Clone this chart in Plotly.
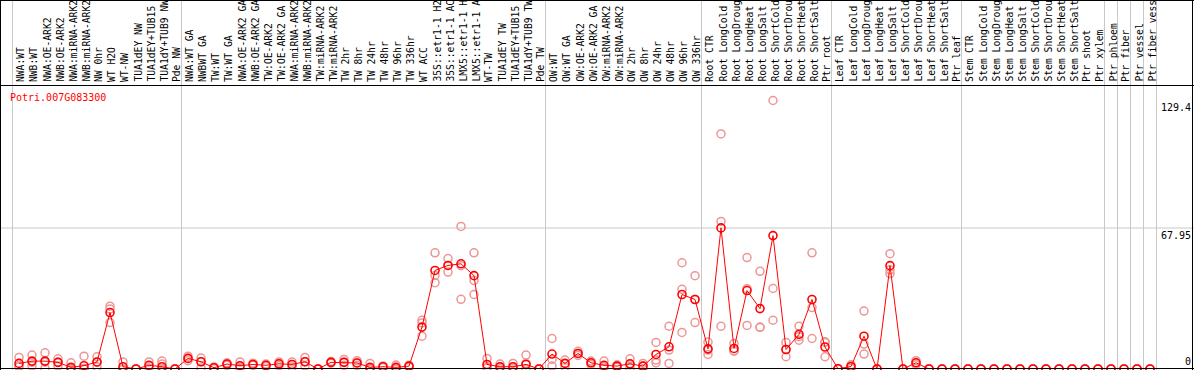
import plotly.graph_objects as go

W, H = 1194, 370

title = "Potri.007G083300"

labels = [
    "NWA:WT", "NWB:WT", "NWA:OE-ARK2", "NWB:OE-ARK2", "NWA:miRNA-ARK2", "NWB:miRNA-ARK2",
    "NW 0hr", "WT H2O", "WT-NW", "TUA1dEY NW", "TUA1dEY+TUB15", "TUA1dY+TUB9 NW", "Pde NW",
    "NWA:WT GA", "NWBWT GA", "TW:WT", "TW:WT GA", "NWA:OE-ARK2 GA", "NWB:OE-ARK2 GA",
    "TW:OE-ARK2", "TW:OE-ARK2 GA", "NWA:miRNA-ARK2", "NWB:miRNA-ARK2", "TW:miRNA-ARK2",
    "TW:miRNA-ARK2", "TW 2hr", "TW 8hr", "TW 24hr", "TW 48hr", "TW 96hr", "TW 336hr",
    "WT ACC", "35S::etr1-1 H2", "35S::etr1-1 AC", "LMX5::etr1-1 H", "LMX5::etr1-1 A",
    "WT-TW", "TUA1dEY TW", "TUA1dEY+TUB15", "TUA1dY+TUB9 TW", "Pde TW",
    "OW:WT", "OW:WT GA", "OW:OE-ARK2", "OW:OE-ARK2 GA", "OW:miRNA-ARK2", "OW:miRNA-ARK2",
    "OW 2hr", "OW 8hr", "OW 24hr", "OW 48hr", "OW 96hr", "OW 336hr",
    "Root CTR", "Root LongCold", "Root LongDroug", "Root LongHeat", "Root LongSalt",
    "Root ShortCold", "Root ShortDrou", "Root ShortHeat", "Root ShortSalt", "Ptr root",
    "Leaf CTR", "Leaf LongCold", "Leaf LongDroug", "Leaf LongHeat", "Leaf LongSalt",
    "Leaf ShortCold", "Leaf ShortDrou", "Leaf ShortHeat", "Leaf ShortSalt", "Ptr leaf",
    "Stem CTR", "Stem LongCold", "Stem LongDroug", "Stem LongHeat", "Stem LongSalt",
    "Stem ShortCold", "Stem ShortDrou", "Stem ShortHeat", "Stem ShortSalt", "Ptr shoot",
    "Ptr xylem", "Ptr phloem", "Ptr fiber", "Ptr vessel", "Ptr fiber vess",
]

means = [
    2.7, 3.8, 3.8, 3.2, 0.8, 1.6, 3.4, 27.2, 1.1, 0.0, 1.8, 1.1, 0.0,
    5.1, 3.5, 0.6, 2.4, 1.6, 2.2, 1.8, 2.5, 2.2, 3.5, 0.0, 3.2, 3.2, 2.9, 0.8, 1.1, 0.8, 1.4,
    20.2, 47.5, 49.9, 50.7, 45.0, 2.2, 1.1, 1.1, 2.2, 0.0,
    7.2, 2.7, 7.5, 3.0, 1.8, 1.4, 2.5, 1.4, 7.0, 10.7, 35.9, 33.5,
    9.7, 68.0, 9.9, 37.8, 29.1, 64.3, 9.4, 16.7, 33.5, 10.6,
    0.1, 1.2, 15.8, 0.0, 49.8, 0.0, 3.0, 0.0, 0.0, 0.0,
    0.0, 0.0, 0.0, 0.0, 0.0, 0.0, 0.0, 0.0, 0.0, 0.0,
    0.0, 0.0, 0.0, 0.0, 0.0,
]

replicates = [
    [5.6, 1.5, 1.0], [6.7, 3.2, 1.5], [7.8, 3.3, 0.3], [4.9, 3.2, 1.5], [3.0, 0.0, 0.0],
    [6.2, 0.3, 0.0], [5.9, 3.2, 1.1], [30.3, 28.9, 22.4], [3.4, 0.0, 0.0], [0.0, 0.0, 0.0],
    [3.4, 1.5, 0.5], [3.8, 2.4, 0.0], [0.0, 0.0, 0.0],
    [6.2, 5.1, 4.0], [5.3, 3.5, 0.5], [1.0, 0.5, 0.3], [3.0, 2.4, 1.8], [3.4, 1.0, 0.4],
    [2.8, 2.0, 1.8], [2.4, 1.8, 1.2], [3.4, 2.5, 1.6], [3.4, 2.2, 1.0], [5.6, 3.5, 1.4],
    [0.0, 0.0, 0.0], [3.6, 3.2, 2.8], [4.6, 3.2, 1.8], [4.0, 2.9, 1.8], [2.7, 0.0, 0.0],
    [1.5, 1.1, 0.7], [1.9, 0.5, 0.0], [1.8, 1.4, 1.0],
    [23.5, 22.2, 15.8], [56.0, 45.1, 41.6], [53.2, 49.9, 46.7], [68.7, 49.8, 33.6],
    [56.0, 42.7, 35.9], [5.1, 1.0, 0.5], [2.4, 0.8, 0.1], [2.7, 0.5, 0.1], [6.7, 2.7, 0.0],
    [0.0, 0.0, 0.0],
    [14.7, 4.6, 1.4], [4.3, 2.7, 1.0], [8.5, 7.5, 6.5], [3.8, 3.0, 2.2], [3.8, 1.2, 0.4],
    [2.0, 1.4, 0.8], [4.9, 2.0, 0.6], [2.7, 1.4, 0.1], [12.8, 4.3, 3.0], [20.6, 9.1, 2.7],
    [51.2, 38.4, 17.6], [45.0, 33.5, 22.4],
    [13.0, 9.1, 7.0], [113.3, 71.1, 20.6], [12.3, 8.8, 8.6], [53.7, 38.7, 21.0],
    [47.1, 20.2, 20.0], [129.4, 38.8, 23.5], [12.8, 9.4, 5.9], [20.6, 15.6, 13.9],
    [56.0, 29.6, 14.7], [13.1, 12.8, 5.9],
    [0.3, 0.0, 0.0], [2.0, 1.2, 0.4], [27.9, 12.0, 7.2], [0.0, 0.0, 0.0], [55.6, 47.8, 46.0],
    [0.0, 0.0, 0.0], [4.0, 3.0, 2.0], [0.0, 0.0, 0.0], [0.0, 0.0, 0.0], [0.0, 0.0, 0.0],
    [0.0, 0.0, 0.0], [0.0, 0.0, 0.0], [0.0, 0.0, 0.0], [0.0, 0.0, 0.0], [0.0, 0.0, 0.0],
    [0.0, 0.0, 0.0], [0.0, 0.0, 0.0], [0.0, 0.0, 0.0], [0.0, 0.0, 0.0], [0.0, 0.0, 0.0],
    [0.0, 0.0, 0.0], [0.0, 0.0, 0.0], [0.0, 0.0, 0.0], [0.0, 0.0, 0.0], [0.0, 0.0, 0.0],
]

# group separators (placed after these column numbers)
separators_after = [0, 13, 41, 53, 63, 73, 84, 85, 86, 87, 88]
axis_ticks = [0, 67.95]
max_label = 129.4

# ---------------------------------------------------------------- geometry
MONO = "DejaVu Sans Mono"
PLOT_TOP = 86      # px
PLOT_BOTTOM = 369  # px
PX_PER_UNIT = 2.075
COL_W = 13.0
FIRST_X = 19.0


def py(p):
    return 1 - p / H


x_cols = list(range(1, len(labels) + 1))
x0 = 1 - FIRST_X / COL_W
x1 = x0 + W / COL_W
y_top = (PLOT_BOTTOM - PLOT_TOP) / PX_PER_UNIT

rx, ry = [], []
for i, reps in enumerate(replicates):
    for v in reps:
        rx.append(i + 1)
        ry.append(v)

fig = go.Figure()
fig.add_trace(go.Scatter(
    x=rx, y=ry, mode="markers", cliponaxis=False, hoverinfo="skip",
    marker=dict(symbol="circle-open", size=8, color="rgb(238,150,150)",
                line=dict(width=1.5, color="rgb(238,150,150)")),
))
fig.add_trace(go.Scatter(
    x=x_cols, y=means, mode="lines+markers", cliponaxis=False,
    line=dict(color="red", width=1),
    marker=dict(symbol="circle-open", size=8, color="red",
                line=dict(width=1.6, color="red")),
))

shapes = []
grey = "rgb(200,200,200)"
for k in separators_after:
    shapes.append(dict(type="line", xref="x", yref="paper", x0=k + 0.5, x1=k + 0.5,
                       y0=0, y1=1, line=dict(color=grey, width=1), layer="below"))
shapes.append(dict(type="line", xref="paper", yref="y", x0=0, x1=1,
                   y0=axis_ticks[1], y1=axis_ticks[1], line=dict(color=grey, width=1),
                   layer="below"))
# black frame and separators
blk = dict(color="black", width=1)
shapes += [
    dict(type="line", xref="paper", yref="paper", x0=0, x1=1, y0=py(85.5), y1=py(85.5), line=blk),
    dict(type="line", xref="paper", yref="paper", x0=0, x1=1, y0=py(0.5), y1=py(0.5), line=blk),
    dict(type="line", xref="paper", yref="paper", x0=0.5 / W, x1=0.5 / W, y0=0, y1=1, line=blk),
    dict(type="line", xref="paper", yref="paper", x0=1 - 1.5 / W, x1=1 - 1.5 / W, y0=0, y1=1, line=blk),
    dict(type="line", xref="paper", yref="y", x0=0, x1=1, y0=0, y1=0,
         line=dict(color="black", width=2)),
]

annotations = []
for i, lab in enumerate(labels):
    annotations.append(dict(
        x=i + 1 + 0.12, y=py(84), xref="x", yref="paper", text=lab, showarrow=False,
        textangle=-90, xanchor="center", yanchor="bottom",
        font=dict(family=MONO, size=9.7, color="black"),
    ))
annotations.append(dict(x=8 / W, y=py(97), xref="paper", yref="paper", text=title,
                        showarrow=False, xanchor="left", yanchor="middle",
                        font=dict(family=MONO, size=10, color="red")))
for val, txt, anchor in [(max_label, "129.4", "top"), (axis_ticks[1], "67.95", "top"),
                         (axis_ticks[0], "0", "bottom")]:
    annotations.append(dict(x=1 - 1 / W, y=val, xref="paper", yref="y", text=txt,
                            showarrow=False, xanchor="right", yanchor=anchor,
                            font=dict(family=MONO, size=10, color="black")))

fig.update_layout(
    width=W, height=H, autosize=False,
    margin=dict(l=0, r=0, t=0, b=0, pad=0),
    paper_bgcolor="white", plot_bgcolor="white", showlegend=False,
    xaxis=dict(range=[x0, x1], visible=False, fixedrange=True),
    yaxis=dict(range=[0, y_top], domain=[1 - PLOT_BOTTOM / H, 1 - PLOT_TOP / H],
               visible=False, fixedrange=True),
    shapes=shapes, annotations=annotations,
)

fig.write_html("out.html", config={"displayModeBar": False},
               post_script="document.body.style.margin='0';document.body.style.overflow='hidden';")
